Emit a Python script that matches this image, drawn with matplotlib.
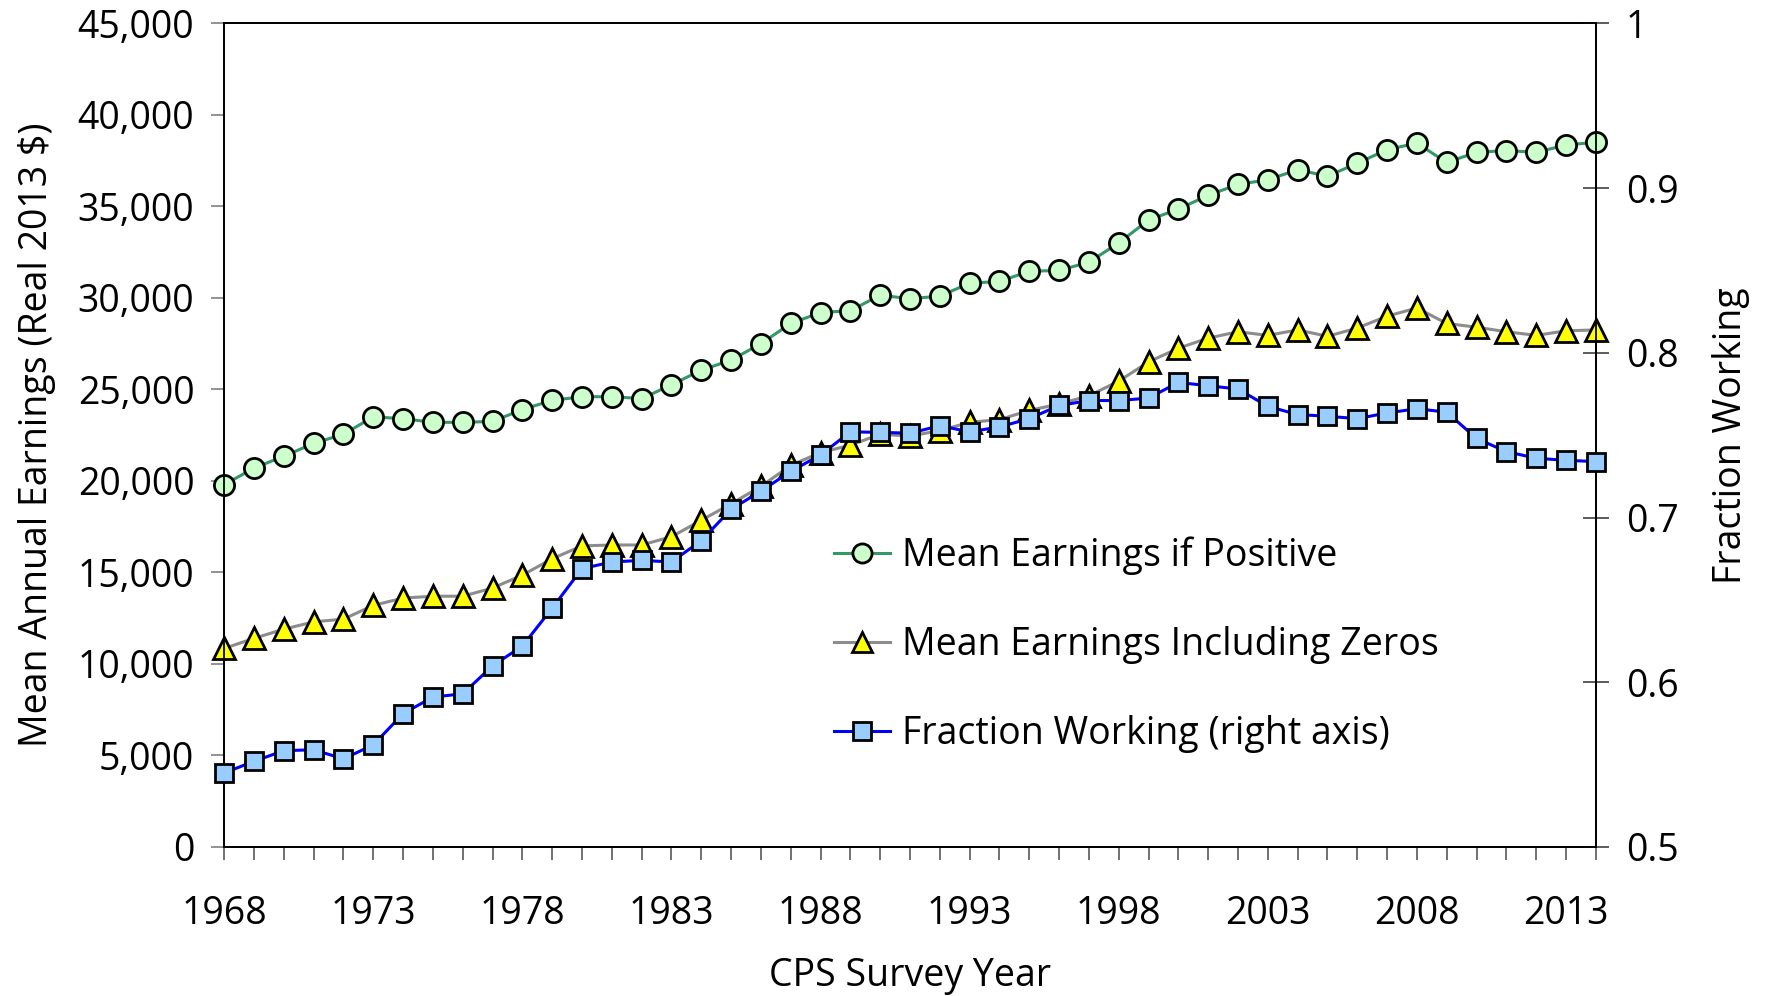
import matplotlib
matplotlib.use("Agg")
import matplotlib.pyplot as plt
from matplotlib.ticker import MultipleLocator, FixedLocator, FuncFormatter

plt.rcParams['font.family'] = ['Open Sans', 'DejaVu Sans']

years = list(range(1968, 2015))
year_ticks = list(range(1968, 2015, 5))

mean_positive = [19.8, 20.7, 21.35, 22.05, 22.55, 23.5, 23.4, 23.2, 23.2, 23.25,
                 23.9, 24.4, 24.6, 24.6, 24.5, 25.25, 26.05, 26.6, 27.5, 28.6,
                 29.2, 29.3, 30.15, 29.95, 30.1, 30.8, 30.9, 31.45, 31.5, 31.95,
                 33.0, 34.25, 34.85, 35.6, 36.2, 36.45, 37.0, 36.65, 37.35, 38.1,
                 38.45, 37.4, 37.95, 38.05, 37.95, 38.35, 38.5]
mean_positive = [v * 1000 for v in mean_positive]

mean_incl_zeros = [10.85, 11.4, 11.9, 12.3, 12.45, 13.2, 13.6, 13.7, 13.7, 14.15,
                   14.85, 15.75, 16.45, 16.5, 16.5, 16.95, 17.85, 18.75, 19.7, 20.85,
                   21.55, 21.95, 22.55, 22.45, 22.75, 23.2, 23.35, 23.85, 24.2, 24.65,
                   25.45, 26.5, 27.25, 27.8, 28.15, 27.95, 28.25, 27.9, 28.35, 29.0,
                   29.45, 28.6, 28.4, 28.15, 27.95, 28.2, 28.25]
mean_incl_zeros = [v * 1000 for v in mean_incl_zeros]

fraction_working = [0.545, 0.552, 0.5585, 0.559, 0.5535, 0.562, 0.581, 0.591, 0.593, 0.610,
                    0.622, 0.645, 0.669, 0.673, 0.674, 0.673, 0.686, 0.705, 0.716, 0.728,
                    0.738, 0.752, 0.7517, 0.7512, 0.7557, 0.752, 0.755, 0.760, 0.768, 0.771,
                    0.771, 0.7725, 0.782, 0.780, 0.778, 0.7675, 0.7625, 0.7615, 0.760, 0.7635,
                    0.766, 0.764, 0.748, 0.740, 0.736, 0.7347, 0.734]

labels = ["Mean Earnings if Positive", "Mean Earnings Including Zeros",
          "Fraction Working (right axis)"]

FS = 27
fig = plt.figure(figsize=(17.67, 9.96), dpi=100)
ax = fig.add_axes([0.1269, 0.1496, 0.9031 - 0.1269, 0.9766 - 0.1496])
ax2 = ax.twinx()

l1, = ax.plot(years, mean_positive, color='#339966', lw=2.2, marker='o', ms=14.5,
              mfc='#CCFFCC', mec='black', mew=2.0, zorder=3, clip_on=False)
l2, = ax.plot(years, mean_incl_zeros, color='#8C8C8C', lw=2.2, marker='^', ms=15.5,
              mfc='#FFFF00', mec='black', mew=2.0, zorder=3, clip_on=False)
l3, = ax2.plot(years, fraction_working, color='#0000FF', lw=2.2, marker='s', ms=13.5,
               mfc='#99CCFF', mec='black', mew=2.0, zorder=3, clip_on=False)

ax.set_xlim(1968, 2014)
ax.set_ylim(0, 45000)
ax2.set_ylim(0.5, 1.0)

ax.xaxis.set_major_locator(FixedLocator(year_ticks))
ax.xaxis.set_minor_locator(MultipleLocator(1))
ax.yaxis.set_major_locator(MultipleLocator(5000))
ax2.yaxis.set_major_locator(MultipleLocator(0.1))
ax.yaxis.set_major_formatter(FuncFormatter(lambda v, p: f"{int(v):,}"))
ax2.yaxis.set_major_formatter(FuncFormatter(lambda v, p: f"{v:g}"))

ax.tick_params(axis='x', which='both', direction='out', length=9.5, width=1.2,
               colors='#595959', labelcolor='black', labelsize=FS, pad=25)
ax.tick_params(axis='y', which='major', direction='out', length=9.5, width=1.2,
               colors='#808080', labelcolor='black', labelsize=FS, pad=12)
ax2.tick_params(axis='y', which='major', direction='inout', length=19, width=1.2,
                colors='#404040', labelcolor='black', labelsize=FS, pad=12)

for a in (ax, ax2):
    for s in a.spines.values():
        s.set_color('black')
        s.set_linewidth(1.3)

ax.set_xlabel("CPS Survey Year", fontsize=FS, labelpad=17)
ax.set_ylabel("Mean Annual Earnings (Real 2013 $)", fontsize=FS, labelpad=16)
ax2.set_ylabel("Fraction Working", fontsize=FS, labelpad=24)

leg = ax2.legend([l1, l2, l3], labels, loc='upper left', bbox_to_anchor=(0.42, 0.418),
                 frameon=False, fontsize=FS, handlelength=1.5, handletextpad=0.3,
                 labelspacing=1.36, markerscale=0.95)

fig.savefig("out.png", dpi=100)
